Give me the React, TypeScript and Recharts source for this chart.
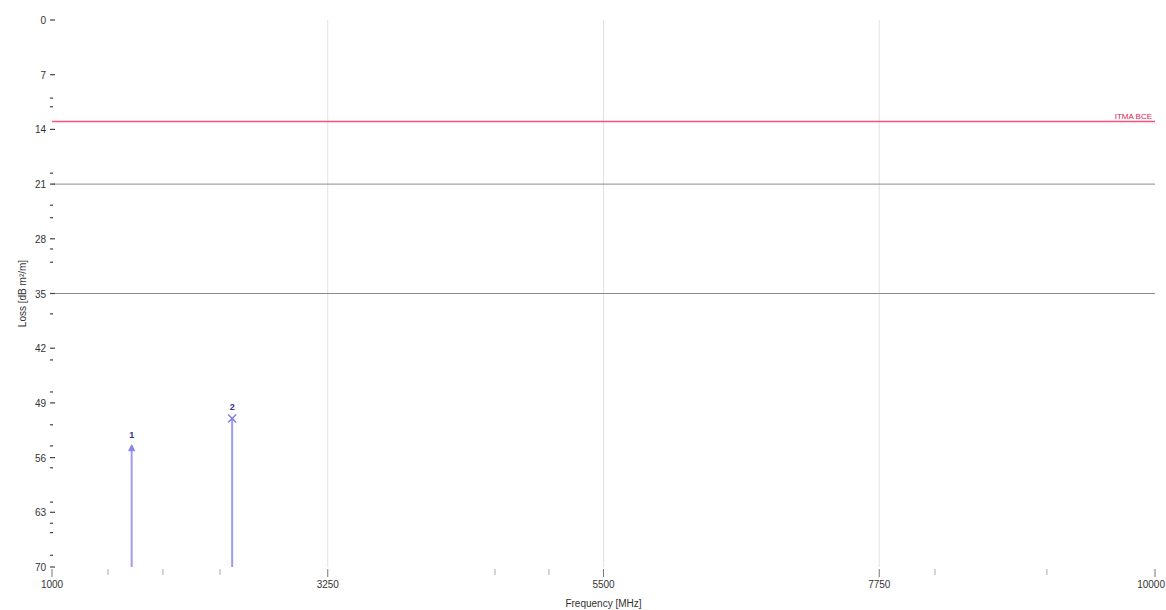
import React from "react";
import {
  ComposedChart,
  XAxis,
  YAxis,
  CartesianGrid,
  ReferenceLine,
  Scatter,
  Label,
} from "recharts";

const xTicks = [1000, 3250, 5500, 7750, 10000];
const yTicks = [0, 7, 14, 21, 28, 35, 42, 49, 56, 63, 70];
const yMinorTicks = [10, 11.1, 19.6, 23.7, 25.3, 29.3, 31, 37.6, 43.5, 47.6, 51.8, 54.5, 57.3, 61.7, 64.4, 65.6, 68.5];
const xMinorTicks = [1457, 1905, 2371, 4615, 5055, 8205, 9118];
const limitValue = 13;
const limitLabel = "ITMA BCE";
const grayLines = [21, 35];
const markerIds = ["1", "2"];
const markerFreqs = [1650, 2470];
const markerLevels = [55, 51];
const markerSymbols = ["arrow", "cross"];

const markerData = markerIds.map((id, i) => ({
  id,
  x: markerFreqs[i],
  y: markerLevels[i],
  sym: markerSymbols[i],
}));

const allXTicks = [...xTicks, ...xMinorTicks].sort((a, b) => a - b);
const allYTicks = [...yTicks, ...yMinorTicks].sort((a, b) => a - b);

const MARKER_COLOR = "#9d9cf2";
const LIMIT_COLOR = "#ff4f7b";
const FONT = "'Liberation Sans', Arial, sans-serif";

const MarkerShape = (props: any) => {
  const { cx, cy, payload } = props;
  if (cx == null || cy == null) return <g />;
  return (
    <g>
      {payload.sym === "cross" ? (
        <g stroke="#7a78e0" strokeWidth={1.3}>
          <line x1={cx - 4} y1={cy - 4} x2={cx + 4} y2={cy + 4} />
          <line x1={cx - 4} y1={cy + 4} x2={cx + 4} y2={cy - 4} />
        </g>
      ) : (
        <g fill="#8886e8" stroke="#8886e8" strokeWidth={1}>
          <path d={`M${cx},${cy - 5} L${cx + 3},${cy + 1} L${cx - 3},${cy + 1} Z`} />
        </g>
      )}
      <text
        x={cx}
        y={cy - (payload.sym === "cross" ? 9 : 12)}
        textAnchor="middle"
        fontSize={9}
        fontWeight="bold"
        fill="#33338a"
        fontFamily={FONT}
      >
        {payload.id}
      </text>
    </g>
  );
};

const XTick = (props: any) => {
  const { x, y, payload } = props;
  const v = payload.value;
  const major = xTicks.includes(v);
  const isLast = v === xTicks[xTicks.length - 1];
  return (
    <g>
      <line x1={x} y1={y - 2} x2={x} y2={y + (major ? 6 : 4)} stroke={major ? "#777" : "#aaa"} strokeWidth={1} />
      {major && (
        <text
          x={isLast ? 1165 : x}
          y={y + 17}
          textAnchor={isLast ? "end" : "middle"}
          fontSize={10}
          fill="#333"
          fontFamily={FONT}
        >
          {v}
        </text>
      )}
    </g>
  );
};

const YTick = (props: any) => {
  const { x, y, payload } = props;
  const v = payload.value;
  const major = yTicks.includes(v);
  const px = x + 4;
  return (
    <g>
      <line x1={px} y1={y} x2={px + (major ? 5 : 3)} y2={y} stroke="#444" strokeWidth={1.2} />
      {major && (
        <text x={px - 4} y={y + 4} textAnchor="end" fontSize={10} fill="#333" fontFamily={FONT}>
          {v}
        </text>
      )}
    </g>
  );
};

export default function App() {
  return (
    <div style={{ position: "absolute", left: 0, top: 0, width: 1166, height: 610, background: "#fff" }}>
      <ComposedChart
        width={1166}
        height={610}
        margin={{ top: 20, right: 11, bottom: 18, left: 12 }}
      >
        <CartesianGrid
          horizontal={false}
          vertical={true}
          stroke="#e2e2e2"
          verticalCoordinatesGenerator={(p: any) => {
            const { offset } = p;
            const w = offset.width;
            return [0.25, 0.5, 0.75].map((f) => offset.left + f * w);
          }}
        />
        <XAxis
          type="number"
          dataKey="x"
          domain={[1000, 10000]}
          ticks={allXTicks}
          interval={0}
          axisLine={false}
          tickLine={false}
          tickSize={2}
          height={25}
          tick={XTick}
          allowDataOverflow
        >
          <Label value="Frequency [MHz]" position="insideBottom" offset={-15} style={{ fontSize: 10, fill: "#333", fontFamily: FONT }} />
        </XAxis>
        <YAxis
          type="number"
          dataKey="y"
          domain={[0, 70]}
          reversed
          ticks={allYTicks}
          interval={0}
          axisLine={false}
          tickLine={false}
          tickSize={4}
          width={40}
          tick={YTick}
          allowDataOverflow
        >
          <Label value="Loss [dB m²/m]" angle={-90} position="insideLeft" offset={10} style={{ fontSize: 10, fill: "#333", fontFamily: FONT, textAnchor: "middle" }} />
        </YAxis>
        {grayLines.map((v) => (
          <ReferenceLine key={v} y={v} stroke="#8c8c8c" strokeWidth={1} />
        ))}
        <ReferenceLine y={limitValue} stroke={LIMIT_COLOR} strokeWidth={1.5} strokeOpacity={1}>
          <Label
            value={limitLabel}
            position="insideBottomRight"
            offset={3}
            style={{ fontSize: 8, fill: "#e0204f", fontFamily: FONT }}
          />
        </ReferenceLine>
        {markerData.map((m) => (
          <ReferenceLine
            key={m.id}
            segment={[
              { x: m.x, y: m.y },
              { x: m.x, y: 70 },
            ]}
            stroke={MARKER_COLOR}
            strokeWidth={2}
          />
        ))}
        <Scatter data={markerData} dataKey="y" shape={MarkerShape} isAnimationActive={false} />
      </ComposedChart>
    </div>
  );
}
